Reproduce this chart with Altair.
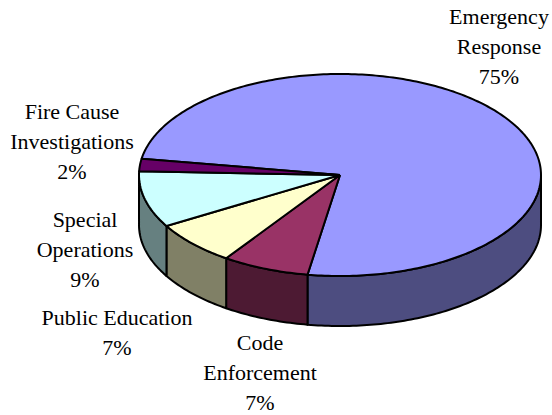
import math
import altair as alt
import pandas as pd

# Budget shares by programme, in drawing order round the pie
programmes = ["Emergency Response", "Code Enforcement", "Public Education",
              "Special Operations", "Fire Cause Investigations"]
shares = [75, 7, 7, 9, 2]
top_colors = ["#9999FF", "#993366", "#FFFFCC", "#CCFFFF", "#660066"]
side_colors = ["#4D4D80", "#4D1A33", "#808066", "#668080", "#330033"]

label_lines = ["Emergency\nResponse\n75%", "Code\nEnforcement\n7%", "Public Education\n7%",
               "Special\nOperations\n9%", "Fire Cause\nInvestigations\n2%"]

# Pie geometry on the canvas
W, H = 552, 415
CX, CY, RX, RY, DEPTH = 340, 175, 201, 101, 50
START_DEG = 279.3  # clockwise from north
label_x = [499, 260, 117, 85, 72]
label_y = [17, 343, 318, 220, 112]


def rim(deg):
    a = math.radians(deg)
    return CX + RX * math.sin(a), CY - RY * math.cos(a)


rows_top, rows_side = [], []
angle = START_DEG
for name, share in zip(programmes, shares):
    sweep = share * 3.6
    steps = max(4, int(sweep))
    arc = [angle + sweep * i / steps for i in range(steps + 1)]
    pts = [(CX, CY)] + [rim(d) for d in arc] + [(CX, CY)]
    rows_top += [{"name": name, "i": i, "x": x, "y": y} for i, (x, y) in enumerate(pts)]
    # The wall shows only where the rim faces the viewer (90 to 270 degrees)
    front = [d for d in arc if 90 <= (d % 360) <= 270]
    if front:
        upper = [rim(d) for d in front]
        lower = [(x, y + DEPTH) for x, y in reversed(upper)]
        ring = upper + lower + upper[:1]
        rows_side += [{"name": name, "i": i, "x": x, "y": y} for i, (x, y) in enumerate(ring)]
    angle += sweep

top = pd.DataFrame(rows_top)
side = pd.DataFrame(rows_side)

x_enc = alt.X("x:Q", scale=alt.Scale(domain=[0, W], range=[0, W]), axis=None)
y_enc = alt.Y("y:Q", scale=alt.Scale(domain=[0, H], range=[0, H]), axis=None)


def wedge(frame, name, color):
    return (
        alt.Chart(frame[frame["name"] == name])
        .mark_line(fill=color, stroke="black", strokeWidth=2, strokeJoin="round", interpolate="linear")
        .encode(x=x_enc, y=y_enc, order="i:Q")
    )


layers = []
for name, color in zip(programmes, side_colors):
    if (side["name"] == name).any():
        layers.append(wedge(side, name, color))
for name, color in zip(programmes, top_colors):
    layers.append(wedge(top, name, color))

labels = pd.DataFrame({"x": label_x, "y": label_y, "text": label_lines})
layers.append(
    alt.Chart(labels)
    .mark_text(font="Liberation Serif", fontSize=22, lineHeight=30, color="black",
               align="center", baseline="middle", lineBreak="\n")
    .encode(x=x_enc, y=y_enc, text="text:N")
)

chart = (
    alt.layer(*layers)
    .properties(width=W, height=H, padding=0, autosize=alt.AutoSizeParams(type="none"))
    .configure_view(stroke=None)
)
chart.save("out.html", embed_options={"renderer": "svg", "actions": False})
